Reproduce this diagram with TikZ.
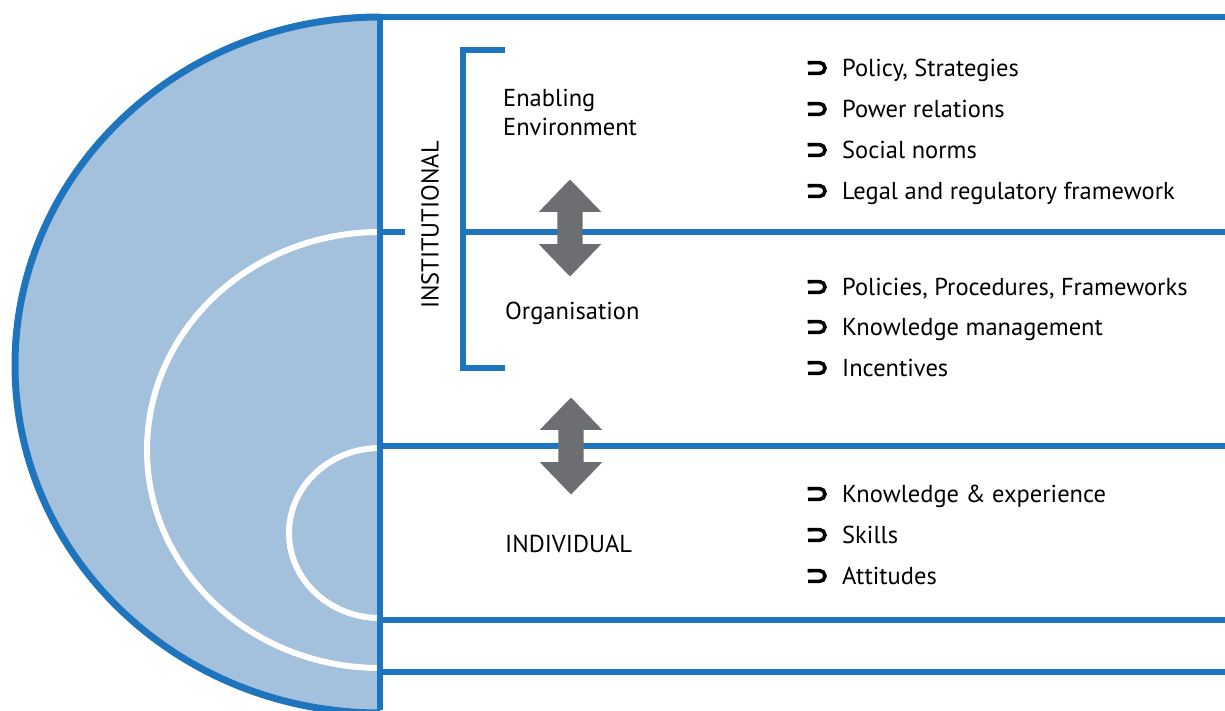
\documentclass[tikz,border=0pt]{standalone}
\usepackage{fontspec}
\setmainfont{PT Sans}
\usetikzlibrary{shapes.arrows,positioning}
\definecolor{linkblue}{HTML}{1F75BD}
\definecolor{discblue}{HTML}{A3C1DD}
\definecolor{arrowgray}{HTML}{6D6E71}

\begin{document}
\begin{tikzpicture}[
  x=1pt, y=-1pt,
  rule/.style={draw=linkblue, line width=6pt},
  ring/.style={draw=white, line width=6pt},
  levellabel/.style={anchor=base west, inner sep=0pt, font=\fontsize{24.5}{29}\selectfont, align=left},
  itemtext/.style={anchor=base west, inner sep=0pt, font=\fontsize{24.5}{29}\selectfont},
  itemmark/.pic={
    \draw[line width=3.6pt, black] (-10,-5.4) -- (1.6,-5.4) arc[start angle=90, end angle=-90, radius=5.4pt] -- (-10,5.4);
    \fill[black] (-10.5,-7.2) -- (-6,-3.6) -- (-10.5,-3.6) -- cycle;
  },
  linkarrow/.style={double arrow, fill=arrowgray, rotate=90, inner xsep=0pt, inner ysep=12.5pt, minimum height=97pt, double arrow head extend=18.5pt, double arrow tip angle=88},
]
\useasboundingbox (0,0) rectangle (1225,710);
\clip (0,0) rectangle (1225,710);

\begin{scope}
  \clip (0,0) rectangle (380,710);
  \fill[discblue] (380,365) ellipse [x radius=365pt, y radius=348pt];
  \draw[ring] (380,450) ellipse [x radius=233pt, y radius=218pt];
  \draw[ring] (380,533) ellipse [x radius=91pt, y radius=85pt];
  \draw[rule, line width=7pt] (380,365) ellipse [x radius=365pt, y radius=348pt];
\end{scope}

\draw[rule] (380,17) -- (1225,17);
\draw[rule] (380,14) -- (380,710);
\draw[rule] (380,232) -- (405,232);
\draw[rule] (463,232) -- (1225,232);
\draw[rule] (380,446) -- (1225,446);
\draw[rule] (380,620) -- (1225,620);
\draw[rule] (380,672) -- (1225,672);
\draw[rule, line join=miter] (505,50) -- (463,50) -- (463,368) -- (505,368);

\node[linkarrow] (upper) at (570,228) {};
\node[linkarrow] (lower) at (571,446) {};

\node[rotate=90, inner sep=0pt, font=\fontsize{24.5}{29}\selectfont] (inst) at (430,225) {INSTITUTIONAL};
\node[levellabel] (env) at (503,135) {Enabling\\Environment};
\node[levellabel] (org) at (505,319) {Organisation};
\node[levellabel] (ind) at (505,552) {INDIVIDUAL};

\foreach \y/\txt in {68/{Policy, Strategies}, 109/{Power relations}, 150/{Social norms}, 191/{Legal and regulatory framework},
                     287/{Policies, Procedures, Frameworks}, 327/{Knowledge management}, 368/{Incentives},
                     494/{Knowledge \& experience}, 535/{Skills}, 576/{Attitudes}}{
  \pic at (818,\y) {itemmark};
  \node[itemtext] at (842,\y+8) {\txt};
}
\end{tikzpicture}
\end{document}
